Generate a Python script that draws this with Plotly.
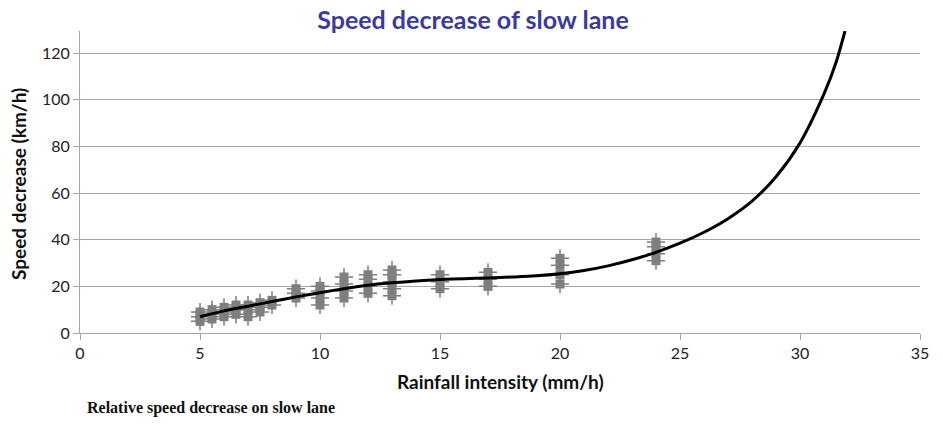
import plotly.graph_objects as go

# Observed data (rainfall intensity mm/h vs speed decrease km/h)
obs_x = [5, 5, 5, 5.5, 5.5, 5.5, 6, 6, 6, 6.5, 6.5, 6.5, 7, 7, 7, 7.5, 7.5, 7.5,
         8, 8, 9, 9, 9, 10, 10, 10, 10, 11, 11, 11, 11, 12, 12, 12, 12,
         13, 13, 13, 13, 13, 15, 15, 15, 17, 17, 17, 20, 20, 20, 20, 24, 24, 24, 24]
obs_y = [5, 7, 9, 6, 8, 10, 7, 9, 11, 8, 10, 12, 7, 10, 12, 9, 11, 13,
         12, 14, 15, 17, 19, 12, 15, 18, 20, 15, 18, 21, 24, 17, 20, 23, 25,
         16, 19, 22, 25, 27, 19, 22, 25, 20, 23, 26, 21, 25, 29, 32, 31, 34, 37, 39]

# Trend curve
trend_x = [5, 6, 7, 8, 9, 10, 11, 12, 13, 14, 15, 16, 17, 18, 19, 20, 21, 22, 23,
           24, 25, 26, 27, 28, 29, 30, 31, 31.5, 31.875]
trend_y = [7, 9.5, 11.5, 13.5, 15.5, 17.3, 19, 20.5, 21.5, 22.3, 22.9, 23.3, 23.6,
           24, 24.5, 25.4, 26.8, 28.8, 31.4, 34.6, 38.5, 43.2, 49, 56.5, 67, 81.5, 102.5, 116, 129.5]

x_ticks = [0, 5, 10, 15, 20, 25, 30, 35]
y_ticks = [0, 20, 40, 60, 80, 100, 120]

L, R, T, B = 80, 23, 31, 92
PW, PH = 943 - L - R, 425 - T - B

fig = go.Figure()
fig.add_trace(go.Scatter(x=obs_x, y=obs_y, mode="markers",
                         marker=dict(symbol="square", size=9, color="#7f7f7f",
                                     line=dict(width=0)),
                         showlegend=False, hoverinfo="skip"))
fig.add_trace(go.Scatter(x=obs_x, y=obs_y, mode="markers",
                         marker=dict(symbol="cross-thin", size=13,
                                     line=dict(width=1.5, color="#7f7f7f")),
                         showlegend=False))
fig.add_trace(go.Scatter(x=trend_x, y=trend_y, mode="lines",
                         line=dict(color="black", width=3, shape="spline", smoothing=0.8),
                         showlegend=False))

fig.update_layout(
    width=943, height=425,
    margin=dict(l=L, r=R, t=T, b=B, autoexpand=False),
    paper_bgcolor="white", plot_bgcolor="white",
    font=dict(family="Lato, Open Sans, sans-serif", color="#222"),
    title=dict(text="<b>Speed decrease of slow lane</b>", xref="container", x=0.5016,
               xanchor="center", yref="container", y=1 - 20 / 425, yanchor="middle",
               font=dict(size=25, color="#3b3b98", family="Lato, sans-serif")),
    xaxis=dict(range=[0, 35], tickvals=x_ticks, showgrid=False, zeroline=False,
               automargin=False,
               showline=True, linecolor="#a6a6a6", linewidth=1,
               ticks="outside", ticklen=6, tickcolor="#a6a6a6",
               tickfont=dict(size=16, color="#222")),
    yaxis=dict(range=[0, 129.5], tickvals=y_ticks, showgrid=True, gridcolor="#a6a6a6",
               gridwidth=1, zeroline=False, automargin=False,
               showline=True, linecolor="#a6a6a6", linewidth=1,
               ticks="outside", ticklen=6, tickcolor="#a6a6a6",
               tickfont=dict(size=16, color="#222")),
    annotations=[
        dict(text="<b>Rainfall intensity (mm/h)</b>", xref="paper", yref="paper",
             x=0.5, y=-(381 - 333) / PH, xanchor="center", yanchor="middle",
             showarrow=False, font=dict(size=19, color="#111")),
        dict(text="<b>Speed decrease (km/h)</b>", xref="paper", yref="paper",
             x=(18 - L) / PW, y=(333 - 184) / PH, xanchor="center", yanchor="middle",
             textangle=-90, showarrow=False, font=dict(size=19, color="#111")),
        dict(text="<b>Relative speed decrease on slow lane</b>",
             xref="paper", yref="paper", x=(85 - L) / PW, y=-(408 - 333) / PH,
             xanchor="left", yanchor="middle", showarrow=False,
             font=dict(size=16, family="Liberation Serif, serif", color="#111")),
    ],
)

fig.write_html("out.html", config={"displayModeBar": False},
               post_script="document.body.style.margin='0';")
